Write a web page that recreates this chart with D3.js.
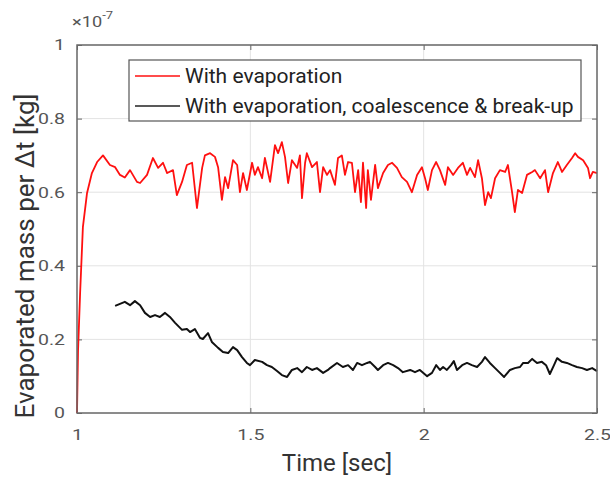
<!DOCTYPE html>
<html><head><meta charset="utf-8">
<script src="https://cdn.jsdelivr.net/npm/d3@7"></script>
<style>html,body{margin:0;padding:0;background:#fff;}svg{display:block;font-family:Roboto,"Noto Sans",sans-serif;}</style>
</head><body>
<svg id="c" width="610" height="479"></svg>
<script>
const xTicks = [1, 1.5, 2, 2.5];
const xTickLabels = ["1", "1.5", "2", "2.5"];
const yTicks = [0, 0.2, 0.4, 0.6, 0.8, 1];
const yTickLabels = ["0", "0.2", "0.4", "0.6", "0.8", "1"];
const seriesNames = ["With evaporation", "With evaporation, coalescence & break-up"];

const evapTime = [1.000,1.003,1.009,1.017,1.029,1.043,1.058,1.075,1.095,1.110,1.124,1.138,1.153,1.173,1.182,1.202,1.219,1.234,1.248,1.260,1.277,1.288,1.303,1.317,1.332,1.346,1.361,1.369,1.384,1.398,1.407,1.418,1.427,1.436,1.450,1.462,1.470,1.479,1.490,1.505,1.513,1.522,1.534,1.542,1.557,1.571,1.580,1.591,1.600,1.609,1.620,1.635,1.643,1.649,1.658,1.663,1.678,1.692,1.701,1.710,1.721,1.730,1.744,1.753,1.764,1.773,1.782,1.793,1.802,1.811,1.819,1.825,1.834,1.839,1.848,1.860,1.868,1.883,1.897,1.909,1.923,1.937,1.952,1.966,1.981,1.995,2.004,2.012,2.024,2.036,2.047,2.062,2.070,2.085,2.099,2.113,2.125,2.134,2.148,2.157,2.168,2.177,2.186,2.194,2.206,2.220,2.235,2.243,2.255,2.263,2.272,2.284,2.298,2.313,2.321,2.336,2.350,2.359,2.373,2.387,2.399,2.413,2.428,2.437,2.445,2.460,2.474,2.480,2.488,2.500];
const evapMass = [0,0.17,0.326,0.505,0.598,0.652,0.682,0.70,0.674,0.668,0.647,0.64,0.66,0.628,0.625,0.647,0.693,0.666,0.68,0.652,0.66,0.592,0.628,0.674,0.68,0.557,0.666,0.70,0.706,0.696,0.668,0.579,0.641,0.611,0.687,0.674,0.60,0.652,0.606,0.68,0.647,0.668,0.638,0.693,0.628,0.728,0.706,0.736,0.696,0.625,0.687,0.666,0.70,0.584,0.68,0.706,0.668,0.682,0.60,0.668,0.647,0.66,0.62,0.693,0.70,0.647,0.682,0.68,0.60,0.66,0.573,0.68,0.557,0.66,0.579,0.674,0.611,0.652,0.674,0.68,0.666,0.641,0.628,0.60,0.647,0.668,0.638,0.606,0.66,0.682,0.66,0.62,0.668,0.647,0.666,0.68,0.647,0.666,0.641,0.687,0.638,0.565,0.60,0.584,0.638,0.66,0.655,0.674,0.60,0.546,0.606,0.598,0.647,0.655,0.66,0.638,0.66,0.60,0.652,0.682,0.655,0.674,0.693,0.706,0.696,0.687,0.666,0.638,0.655,0.652];

const fullTime = [1.110,1.138,1.153,1.167,1.182,1.196,1.211,1.225,1.239,1.254,1.268,1.283,1.303,1.317,1.326,1.340,1.355,1.363,1.378,1.389,1.407,1.421,1.436,1.450,1.462,1.476,1.490,1.499,1.513,1.534,1.548,1.562,1.577,1.591,1.606,1.620,1.635,1.649,1.663,1.678,1.692,1.710,1.724,1.730,1.750,1.767,1.782,1.796,1.808,1.822,1.837,1.845,1.860,1.868,1.883,1.897,1.912,1.926,1.940,1.961,1.975,1.989,2.010,2.024,2.036,2.047,2.056,2.067,2.079,2.087,2.096,2.111,2.125,2.139,2.154,2.168,2.177,2.191,2.206,2.220,2.232,2.249,2.263,2.278,2.287,2.301,2.313,2.327,2.341,2.353,2.364,2.376,2.385,2.399,2.413,2.428,2.442,2.457,2.471,2.486,2.500];
const fullMass = [0.291,0.302,0.293,0.304,0.293,0.272,0.261,0.266,0.261,0.272,0.261,0.245,0.226,0.228,0.22,0.228,0.204,0.201,0.217,0.193,0.177,0.166,0.163,0.179,0.171,0.152,0.136,0.13,0.144,0.139,0.13,0.125,0.114,0.103,0.098,0.117,0.122,0.111,0.125,0.117,0.122,0.109,0.117,0.122,0.136,0.125,0.13,0.117,0.136,0.13,0.136,0.139,0.125,0.117,0.13,0.136,0.13,0.122,0.111,0.117,0.111,0.117,0.1,0.109,0.13,0.117,0.125,0.117,0.13,0.141,0.117,0.13,0.136,0.13,0.125,0.139,0.152,0.136,0.122,0.109,0.098,0.117,0.122,0.125,0.136,0.136,0.147,0.136,0.139,0.13,0.106,0.13,0.149,0.139,0.136,0.13,0.125,0.122,0.117,0.122,0.114];

const W = 610, H = 479;
const m = {left: 77, right: 597, top: 45, bottom: 413};
const stretch = 1.3;
const x = d3.scaleLinear().domain([1, 2.5]).range([m.left, m.right]);
const y = d3.scaleLinear().domain([0, 1]).range([m.bottom, m.top]);
const svg = d3.select("#c");
svg.append("rect").attr("width", W).attr("height", H).attr("fill", "#fff");

// grid
svg.append("g").selectAll("line").data(xTicks).join("line")
  .attr("x1", d => x(d)).attr("x2", d => x(d)).attr("y1", m.top).attr("y2", m.bottom)
  .attr("stroke", "#e3e3e3").attr("stroke-width", 1);
svg.append("g").selectAll("line").data(yTicks).join("line")
  .attr("y1", d => y(d)).attr("y2", d => y(d)).attr("x1", m.left).attr("x2", m.right)
  .attr("stroke", "#e3e3e3").attr("stroke-width", 1);

// axes with inward ticks
const gx = svg.append("g").attr("transform", `translate(0,${m.bottom})`)
  .call(d3.axisBottom(x).tickValues(xTicks).tickFormat((d, i) => xTickLabels[i]).tickSizeInner(-5).tickSizeOuter(0).tickPadding(16));
const gy = svg.append("g").attr("transform", `translate(${m.left},0)`)
  .call(d3.axisLeft(y).tickValues(yTicks).tickFormat((d, i) => yTickLabels[i]).tickSizeInner(-5).tickSizeOuter(0).tickPadding(12));
const gxt = svg.append("g").attr("transform", `translate(0,${m.top})`)
  .call(d3.axisTop(x).tickValues(xTicks).tickFormat("").tickSizeInner(-5).tickSizeOuter(0));
const gyr = svg.append("g").attr("transform", `translate(${m.right},0)`)
  .call(d3.axisRight(y).tickValues(yTicks).tickFormat("").tickSizeInner(-5).tickSizeOuter(0));
[gx, gy, gxt, gyr].forEach(g => {
  g.select(".domain").remove();
  g.selectAll(".tick line").attr("stroke", "#666");
  g.selectAll(".tick text").attr("fill", "#555").attr("font-size", 15).attr("font-family", "Roboto, sans-serif")
    .attr("transform", function() {
      const tx = +this.getAttribute("x") || 0;
      return `translate(${tx},0) scale(${stretch},1) translate(${-tx},0)`;
    });
});

// lines
const lineGen = d3.line().x(d => x(d[0])).y(d => y(d[1]));
const evapData = evapTime.map((t, i) => [t, evapMass[i]]);
const fullData = fullTime.map((t, i) => [t, fullMass[i]]);
svg.append("path").datum(fullData).attr("d", lineGen).attr("fill", "none")
  .attr("stroke", "#111").attr("stroke-width", 2).attr("stroke-linejoin", "round");
svg.append("path").datum(evapData).attr("d", lineGen).attr("fill", "none")
  .attr("stroke", "#ff1010").attr("stroke-width", 1.8).attr("stroke-linejoin", "round");

// box
svg.append("rect").attr("x", m.left).attr("y", m.top).attr("width", m.right - m.left).attr("height", m.bottom - m.top)
  .attr("fill", "none").attr("stroke", "#6a6a6a").attr("stroke-width", 1.5);

// legend
const lg = svg.append("g");
lg.append("rect").attr("x", 129).attr("y", 60).attr("width", 452).attr("height", 61)
  .attr("fill", "#fff").attr("stroke", "#555").attr("stroke-width", 1.2);
const colors = ["#ff1010", "#222"];
seriesNames.forEach((n, i) => {
  const yy = 76 + i * 30;
  lg.append("line").attr("x1", 135).attr("x2", 180).attr("y1", yy).attr("y2", yy)
    .attr("stroke", colors[i]).attr("stroke-width", 1.5);
  lg.append("text").attr("x", 185).attr("y", yy).attr("dy", "0.35em")
    .attr("font-size", 21).attr("fill", "#222").text(n);
});

// exponent
const ex = svg.append("text").attr("transform", `translate(72,27) scale(${stretch},1)`).attr("fill", "#555").attr("font-size", 14);
ex.append("tspan").text("×10");
ex.append("tspan").attr("font-size", 10).attr("dy", -8).text("-7");

// axis labels
svg.append("text").attr("x", (m.left + m.right) / 2).attr("y", 471).attr("text-anchor", "middle")
  .attr("font-size", 24).attr("fill", "#333").text("Time [sec]");
svg.append("text").attr("transform", `translate(34,256) rotate(-90)`).attr("text-anchor", "middle")
  .attr("font-size", 26).attr("fill", "#333").text("Evaporated mass per Δt [kg]");
</script>
</body></html>
